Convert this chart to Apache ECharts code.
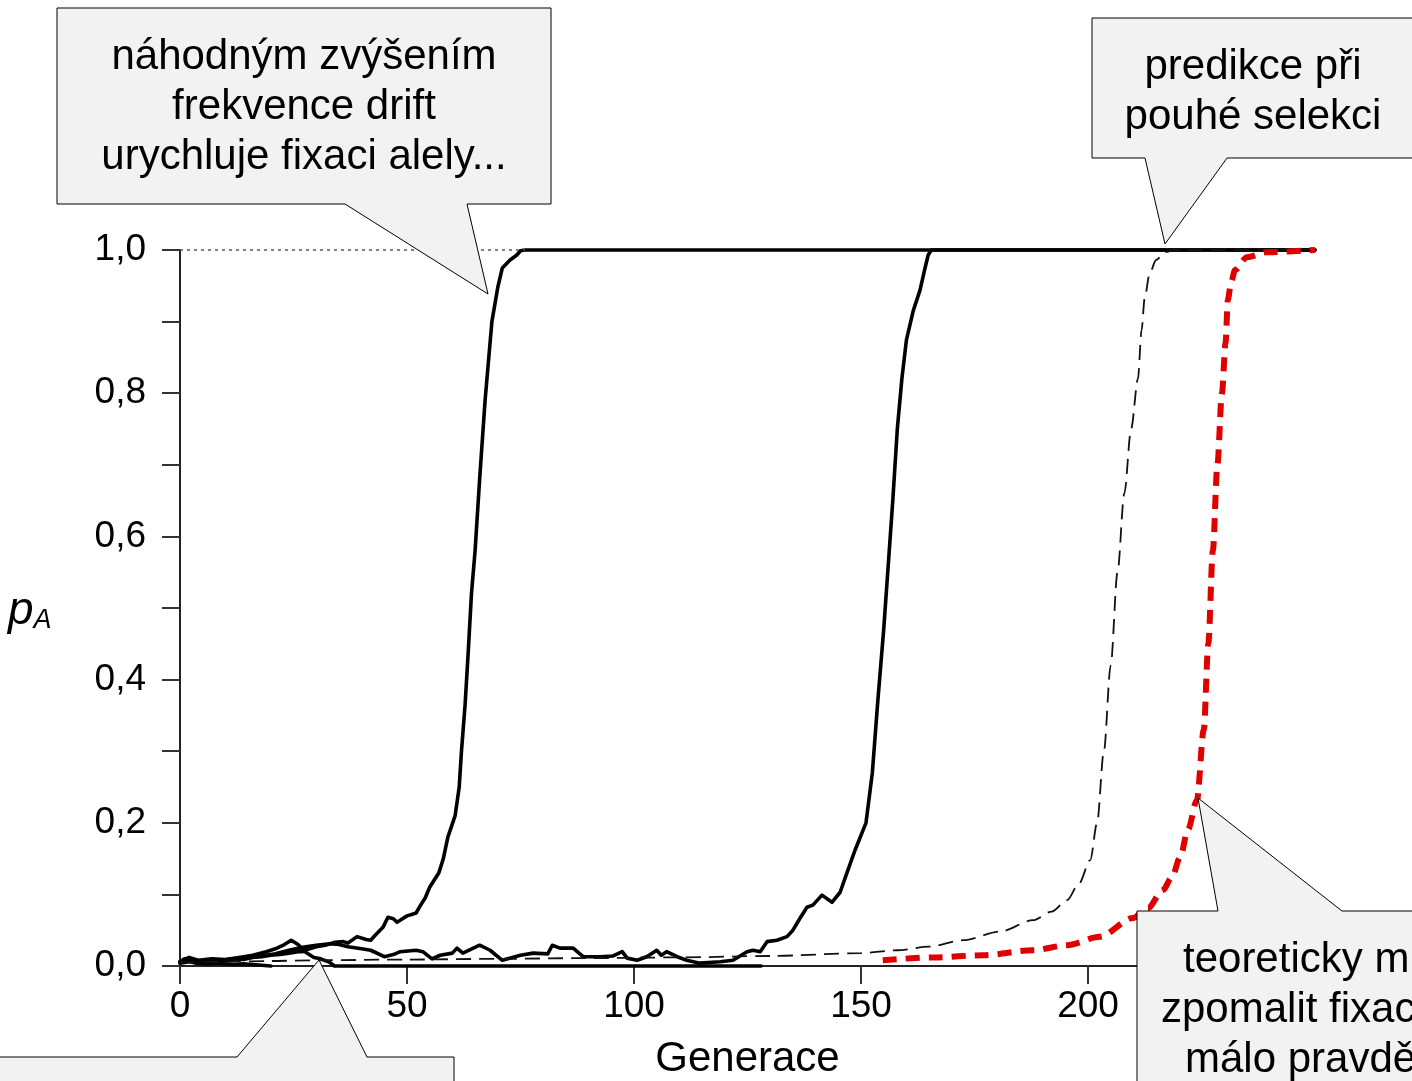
<!DOCTYPE html>
<html>
<head>
<meta charset="utf-8">
<script src="https://cdn.jsdelivr.net/npm/echarts@6/dist/echarts.min.js"></script>
<style>html,body{margin:0;padding:0;background:#fff;}#c{width:1412px;height:1081px;}</style>
</head>
<body>
<div id="c"></div>
<script>
// Drift trajectory that fixes early (~gen 76)
const genA = [0,1,2,3,4,6,8,10,12,14,16,18,20,22,24,26,27,28,30,32,34,36,37,39,41,42,43,44.7,45.8,47,47.8,49,50,51,52,53,54,55,56,57,58,59,60.6,61.5,62,62.8,63.5,64.2,65,66,67.2,68.7,70,71,72.7,74.2,75,76,250];
const pA = [0.006,0.010,0.008,0.005,0.004,0.005,0.006,0.008,0.010,0.009,0.012,0.013,0.015,0.016,0.018,0.020,0.020,0.023,0.027,0.029,0.033,0.034,0.032,0.041,0.037,0.036,0.043,0.054,0.068,0.066,0.061,0.066,0.070,0.072,0.074,0.085,0.095,0.110,0.120,0.130,0.150,0.180,0.210,0.250,0.300,0.365,0.440,0.520,0.580,0.680,0.790,0.900,0.948,0.975,0.986,0.993,0.999,1.0,1.0];
// Drift trajectory that fixes later (~gen 165)
const genB = [0,3,6,9,12,15,18,21,24,27,30,33,35,37,40,42,45,47,48.5,52,53.5,55.5,57.3,60,61,62.3,66,68.3,71,75,77.8,81,82,83.7,86.6,88.8,92.5,95.4,97.4,98.5,100.7,102.8,105,106,107.2,109.5,111.6,114.5,119,121.8,124.9,126.2,127.8,129.3,131.5,133.7,135,136.6,138.1,139.4,141.4,143.6,145.4,146.9,148.7,151.1,152.5,153.7,155,156,157,158,159,160,161.5,163,164,164.8,165.5,250];
const pB = [0.005,0.008,0.006,0.008,0.010,0.012,0.014,0.017,0.022,0.026,0.029,0.031,0.030,0.027,0.024,0.022,0.013,0.016,0.020,0.022,0.020,0.010,0.015,0.018,0.025,0.018,0.029,0.022,0.008,0.015,0.018,0.017,0.029,0.025,0.025,0.013,0.013,0.014,0.020,0.011,0.008,0.013,0.022,0.015,0.020,0.013,0.008,0.004,0.006,0.008,0.020,0.022,0.020,0.034,0.036,0.041,0.050,0.067,0.082,0.085,0.099,0.089,0.103,0.130,0.162,0.200,0.270,0.370,0.470,0.560,0.650,0.750,0.820,0.874,0.915,0.944,0.972,0.993,1.0,1.0];
// Drift trajectory that is lost (~gen 34)
const genC = [0,2,4,7,10,13,16,19,21,23,24.5,26,27.5,29.5,31,33,34,128];
const pC = [0.006,0.012,0.008,0.010,0.009,0.012,0.015,0.020,0.024,0.030,0.036,0.030,0.020,0.012,0.010,0.005,0,0];
// Drift trajectory lost early
const genD = [0,2,4,6,8,10,12,14,16,18,20];
const pD = [0.004,0.006,0.004,0.003,0.004,0.003,0.002,0.003,0.002,0.001,0];
// Deterministic prediction (selection only)
const genSel = [0,10,20,30,50,70,90,110,130,150,158,165,172.5,180.6,187.9,192,195.4,198,200.5,202,203.5,205,206.5,208,209.5,211,211.8,212.5,213.6,215,217,219,250];
const pSel = [0.005,0.006,0.007,0.008,0.009,0.010,0.011,0.012,0.014,0.018,0.022,0.027,0.036,0.048,0.064,0.076,0.092,0.115,0.148,0.200,0.300,0.420,0.550,0.660,0.750,0.820,0.888,0.934,0.968,0.986,0.997,1.0,1.0];
// Theoretical slowed fixation (red)
const genRed = [154.8,165.9,176.9,187.9,195.4,202.6,209.9,213.2,216.5,218.5,220.3,222,224,225.5,226.5,227.5,228.5,229.5,230.3,230.8,231.5,232.4,235,239.4,250];
const pRed = [0.008,0.012,0.015,0.022,0.029,0.041,0.067,0.081,0.106,0.124,0.152,0.190,0.232,0.330,0.450,0.580,0.700,0.800,0.870,0.930,0.955,0.972,0.990,0.997,1.0];

const xTicks = [0,50,100,150,200,250];
const yMajor = [0,0.2,0.4,0.6,0.8,1.0];

const zip = (g, p) => g.map((v, i) => [v, p[i]]);
const FONT = "'Liberation Sans', Arial, sans-serif";
const firstFix = genA[pA.indexOf(1.0)];

const chart = echarts.init(document.getElementById('c'), null, {renderer: 'canvas'});

function solid(name, g, p, z) {
  return {name, type: 'line', data: zip(g, p), symbol: 'none', clip: false, z,
    lineStyle: {color: '#000', width: 3.6, join: 'round', cap: 'round'}};
}

const option = {
  animation: false,
  backgroundColor: '#fff',
  grid: {left: 180, right: 97, top: 250, bottom: 115, containLabel: false, outerBoundsMode: 'none'},
  xAxis: {
    type: 'value', min: 0, max: 250, interval: 50,
    axisLine: {lineStyle: {color: '#222', width: 2}},
    axisTick: {show: true, length: 18, inside: false, lineStyle: {color: '#333', width: 2}},
    axisLabel: {fontFamily: FONT, fontSize: 37, color: '#000', margin: 22,
      formatter: v => xTicks.includes(v) ? String(v) : ''},
    splitLine: {show: false},
    name: 'Generace', nameLocation: 'middle', nameGap: 72,
    nameTextStyle: {fontFamily: FONT, fontSize: 42, color: '#000'}
  },
  yAxis: {
    type: 'value', min: 0, max: 1, interval: 0.2,
    axisLine: {show: true, lineStyle: {color: '#222', width: 2}},
    axisTick: {show: true, length: 18, inside: false, lineStyle: {color: '#333', width: 2}},
    minorTick: {show: true, splitNumber: 2, length: 18, lineStyle: {color: '#333', width: 2}},
    axisLabel: {fontFamily: FONT, fontSize: 37, color: '#000', margin: 34,
      formatter: v => yMajor.some(t => Math.abs(t - v) < 1e-9) ? v.toFixed(1).replace('.', ',') : ''},
    splitLine: {show: false}
  },
  series: [
    {name: 'ref', type: 'line', data: [], z: 1,
      markLine: {silent: true, symbol: 'none', label: {show: false},
        lineStyle: {color: '#555', width: 1.5, type: [3, 4]},
        data: [[{coord: [0, 1]}, {coord: [firstFix, 1]}]]}},
    solid('D', genD, pD, 2),
    solid('C', genC, pC, 2),
    solid('B', genB, pB, 3),
    solid('A', genA, pA, 3),
    {name: 'selekce', type: 'line', data: zip(genSel, pSel), symbol: 'none', clip: false, z: 4,
      smooth: 0.3, smoothMonotone: 'x',
      lineStyle: {color: '#111', width: 1.8, type: [15, 8]}},
    {name: 'teorie', type: 'line', data: zip(genRed, pRed), symbol: 'none', clip: false, z: 5,
      smooth: 0.3, smoothMonotone: 'x',
      lineStyle: {color: '#e00000', width: 6, type: [14, 9]}}
  ],
  graphic: [
    {type: 'text', x: 8, y: 588, z: 100,
      style: {text: '{p|p}{a|A}', rich: {
        p: {fontFamily: FONT, fontSize: 46, fontStyle: 'italic', fill: '#000'},
        a: {fontFamily: FONT, fontSize: 27, fontStyle: 'italic', fill: '#000', padding: [18, 0, 0, 0]}
      }}},
    {type: 'polygon', z: 100,
      shape: {points: [[57,8],[551,8],[551,204],[467,204],[488,294],[345,204],[57,204]]},
      style: {fill: '#f2f2f2', stroke: '#000', lineWidth: 1}},
    {type: 'text', z: 101, x: 304, y: 32,
      style: {text: 'náhodným zvýšením\nfrekvence drift\nurychluje fixaci alely...',
        fontFamily: FONT, fontSize: 42, lineHeight: 50, fill: '#000', align: 'center', verticalAlign: 'top'}},
    {type: 'polygon', z: 100,
      shape: {points: [[1092,18],[1420,18],[1420,158],[1227,158],[1165,244],[1145,158],[1092,158]]},
      style: {fill: '#f2f2f2', stroke: '#000', lineWidth: 1}},
    {type: 'text', z: 101, x: 1253, y: 42,
      style: {text: 'predikce při\npouhé selekci',
        fontFamily: FONT, fontSize: 42, lineHeight: 50, fill: '#000', align: 'center', verticalAlign: 'top'}},
    {type: 'polygon', z: 100,
      shape: {points: [[1137,911],[1218,911],[1198,798],[1342,911],[1420,911],[1420,1090],[1137,1090]]},
      style: {fill: '#f2f2f2', stroke: '#000', lineWidth: 1}},
    {type: 'text', z: 101, x: 1183, y: 960,
      style: {text: 'teoreticky může drift', fontFamily: FONT, fontSize: 42, fill: '#000', align: 'left', verticalAlign: 'middle'}},
    {type: 'text', z: 101, x: 1161, y: 1010,
      style: {text: 'zpomalit fixaci, ale', fontFamily: FONT, fontSize: 42, fill: '#000', align: 'left', verticalAlign: 'middle'}},
    {type: 'text', z: 101, x: 1185, y: 1060,
      style: {text: 'málo pravděpodobně', fontFamily: FONT, fontSize: 42, fill: '#000', align: 'left', verticalAlign: 'middle'}},
    {type: 'polygon', z: 100,
      shape: {points: [[-5,1057],[237,1057],[319,960],[367,1057],[454,1057],[454,1090],[-5,1090]]},
      style: {fill: '#f2f2f2', stroke: '#000', lineWidth: 1}}
  ]
};
chart.setOption(option);
</script>
</body>
</html>
